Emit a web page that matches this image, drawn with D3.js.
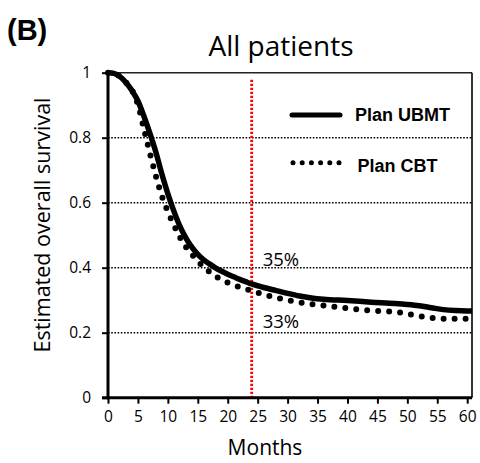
<!DOCTYPE html>
<html>
<head>
<meta charset="utf-8">
<script src="https://cdn.jsdelivr.net/npm/d3@7"></script>
<style>
    body { margin: 0; background: #fff; }
    svg { display: block; }
</style>
</head>
<body>
<div id="chart"></div>
<script>
// Survival curves (months, estimated overall survival)
var ubmtMonths = [0, 1, 2, 3, 4, 5, 6, 7, 8, 9, 10, 11, 12, 13, 14, 15, 16, 17, 18, 19, 20,
                  21, 22, 23, 24, 26, 28, 30, 32, 34, 36, 40, 44, 48, 50, 52, 54, 56, 58, 60, 60.8];
var ubmtSurvival = [1, 0.998, 0.988, 0.97, 0.945, 0.913, 0.866, 0.813, 0.755, 0.688, 0.627,
                    0.574, 0.528, 0.492, 0.463, 0.441, 0.424, 0.411, 0.399, 0.389, 0.38,
                    0.372, 0.364, 0.357, 0.35, 0.339, 0.33, 0.321, 0.313, 0.307, 0.303,
                    0.299, 0.294, 0.290, 0.287, 0.283, 0.277, 0.271, 0.268, 0.267, 0.267];

var cbtMonths = [0, 1, 2, 3, 4, 4.5, 5, 6, 7, 8, 9, 10, 11, 12, 13, 14, 15, 16, 17, 18, 19, 20,
                 22, 24, 26, 28, 30, 32, 34, 36, 40, 44, 48, 50, 52, 54, 56, 58, 60];
var cbtSurvival = [1, 0.998, 0.988, 0.97, 0.946, 0.927, 0.902, 0.827, 0.752, 0.682, 0.620,
                   0.572, 0.531, 0.494, 0.464, 0.441, 0.420, 0.402, 0.387, 0.373, 0.363,
                   0.354, 0.340, 0.329, 0.318, 0.308, 0.300, 0.293, 0.288, 0.284, 0.275,
                   0.268, 0.264, 0.258, 0.251, 0.246, 0.243, 0.243, 0.243];

var xTicks = [0, 5, 10, 15, 20, 25, 30, 35, 40, 45, 50, 55, 60];
var yTicks = [0, 0.2, 0.4, 0.6, 0.8, 1];
var gridValues = [0.2, 0.4, 0.6, 0.8];
var markerMonth = 24;
var markerLabels = ['35%', '33%'];
var legendItems = [ { name: 'Plan UBMT', style: 'solid' }, { name: 'Plan CBT', style: 'dotted' } ];

var width = 480, height = 463;
var plot = { left: 108, right: 472, top: 72.7, bottom: 397.7 };

var svg = d3.select('#chart').append('svg')
    .attr('width', width)
    .attr('height', height);

var x = d3.scaleLinear().domain([0, 60.8]).range([plot.left, plot.right]);
var y = d3.scaleLinear().domain([0, 1]).range([plot.bottom, plot.top]);

// panel letter and title
svg.append('text')
    .attr('x', 7)
    .attr('y', 40)
    .style('font-family', 'Liberation Sans, Arial, sans-serif')
    .style('font-weight', 'bold')
    .style('font-size', '29px')
    .text('(B)');

svg.append('text')
    .attr('x', 281)
    .attr('y', 56)
    .attr('text-anchor', 'middle')
    .style('font-family', 'Open Sans, sans-serif')
    .style('font-size', '28px')
    .text('All patients');

// dotted horizontal gridlines
svg.selectAll('line.grid')
    .data(gridValues)
    .enter()
    .append('line')
        .attr('class', 'grid')
        .attr('x1', plot.left)
        .attr('x2', plot.right)
        .attr('y1', function(d) { return y(d); })
        .attr('y2', function(d) { return y(d); })
        .style('stroke', '#000')
        .style('stroke-width', 1.4)
        .style('stroke-dasharray', '1.6,1.6');

// plot area border: top and right
svg.append('line')
    .attr('x1', plot.left).attr('x2', plot.right)
    .attr('y1', y(1)).attr('y2', y(1))
    .style('stroke', '#222').style('stroke-width', 1.6);
svg.append('line')
    .attr('x1', plot.right).attr('x2', plot.right)
    .attr('y1', y(1)).attr('y2', y(0))
    .style('stroke', '#000').style('stroke-width', 1.6);

// red marker at 24 months
svg.append('line')
    .attr('x1', x(markerMonth)).attr('x2', x(markerMonth))
    .attr('y1', plot.top + 7).attr('y2', plot.bottom)
    .style('stroke', '#ff0000')
    .style('stroke-width', 2.8)
    .style('stroke-dasharray', '2.2,1.8');

// curves
var cbtData = cbtMonths.map(function(m, i) { return { m: m, s: cbtSurvival[i] }; });
var ubmtData = ubmtMonths.map(function(m, i) { return { m: m, s: ubmtSurvival[i] }; });

var lineGen = d3.line()
    .x(function(d) { return x(d.m); })
    .y(function(d) { return y(d.s); })
    .curve(d3.curveMonotoneX);

svg.append('path')
    .datum(cbtData)
    .attr('d', lineGen)
    .style('fill', 'none')
    .style('stroke', '#000')
    .style('stroke-width', 6)
    .style('stroke-linecap', 'round')
    .style('stroke-dasharray', '0,11');

svg.append('path')
    .datum(ubmtData)
    .attr('d', lineGen)
    .style('fill', 'none')
    .style('stroke', '#000')
    .style('stroke-width', 5.5);

// axes
var xAxis = d3.axisBottom(x).tickValues(xTicks).tickSize(6).tickPadding(7);
var gx = svg.append('g')
    .attr('transform', 'translate(0,' + plot.bottom + ')')
    .call(xAxis);
gx.select('.domain').remove();
gx.selectAll('.tick line').style('stroke', '#000').style('stroke-width', 2);
gx.selectAll('.tick text').style('font-family', 'Open Sans, sans-serif').style('font-size', '15.5px');
gx.append('line')
    .attr('x1', plot.left - 6).attr('x2', plot.right)
    .attr('y1', 0).attr('y2', 0)
    .style('stroke', '#000').style('stroke-width', 3);

var yAxis = d3.axisLeft(y).tickValues(yTicks).tickSize(6).tickPadding(11)
    .tickFormat(function(d) { return d3.format('')(d); });
var gy = svg.append('g')
    .attr('transform', 'translate(' + plot.left + ',0)')
    .call(yAxis);
gy.select('.domain').remove();
gy.selectAll('.tick line').style('stroke', '#000').style('stroke-width', 2);
gy.selectAll('.tick text').style('font-family', 'Open Sans, sans-serif').style('font-size', '15.5px');
gy.append('line')
    .attr('x1', 0).attr('x2', 0)
    .attr('y1', plot.top - 1).attr('y2', plot.bottom + 1.5)
    .style('stroke', '#000').style('stroke-width', 3);

// axis titles
svg.append('text')
    .attr('x', 265)
    .attr('y', 455)
    .attr('text-anchor', 'middle')
    .style('font-family', 'Open Sans, sans-serif')
    .style('font-size', '21px')
    .text('Months');

svg.append('text')
    .attr('transform', 'translate(50,225) rotate(-90)')
    .attr('text-anchor', 'middle')
    .style('font-family', 'Open Sans, sans-serif')
    .style('font-size', '21.5px')
    .text('Estimated overall survival');

// percentage labels at the marker
svg.selectAll('text.pct')
    .data(markerLabels)
    .enter()
    .append('text')
        .attr('class', 'pct')
        .attr('x', x(markerMonth) + 11)
        .attr('y', function(d, i) { return i === 0 ? 265.7 : 328.3; })
        .style('font-family', 'Open Sans, sans-serif')
        .style('font-size', '18.5px')
        .text(function(d) { return d; });

// legend
var legend = svg.selectAll('g.legend')
    .data(legendItems)
    .enter()
    .append('g')
        .attr('class', 'legend')
        .attr('transform', function(d, i) { return 'translate(0,' + (i === 0 ? 115 : 162.7) + ')'; });

legend.append('line')
    .attr('x1', function(d) { return d.style === 'solid' ? 292 : 293; })
    .attr('x2', function(d) { return d.style === 'solid' ? 340 : 339; })
    .attr('y1', 0).attr('y2', 0)
    .style('stroke', '#000')
    .style('stroke-width', function(d) { return d.style === 'solid' ? 5 : 5; })
    .style('stroke-linecap', 'round')
    .style('stroke-dasharray', function(d) { return d.style === 'solid' ? null : '0,9.2'; });

legend.append('text')
    .attr('x', function(d, i) { return i === 0 ? 355 : 357.5; })
    .attr('y', function(d, i) { return i === 0 ? 6 : 9; })
    .style('font-family', 'Liberation Sans, Arial, sans-serif')
    .style('font-weight', 'bold')
    .style('font-size', '18px')
    .text(function(d) { return d.name; });
</script>
</body>
</html>
